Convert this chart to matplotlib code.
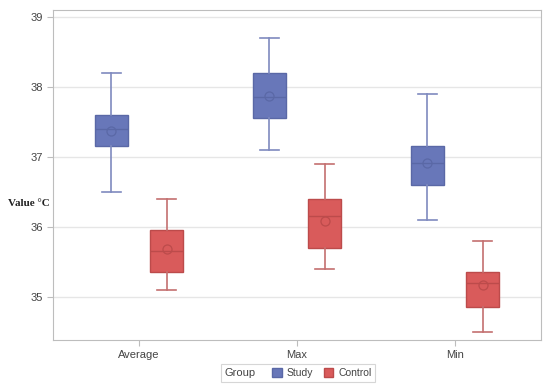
import matplotlib
matplotlib.use("Agg")
import matplotlib.pyplot as plt
from matplotlib.patches import Patch
from matplotlib.offsetbox import HPacker

plt.rcParams['font.family'] = ['Liberation Sans', 'DejaVu Sans']

categories = ["Average", "Max", "Min"]
groups = ["Study", "Control"]

# box stats (°C)
study_whislo = [36.50, 37.10, 36.11]
study_q1 = [37.16, 37.56, 36.60]
study_med = [37.40, 37.86, 36.91]
study_q3 = [37.60, 38.20, 37.16]
study_whishi = [38.20, 38.70, 37.90]
study_mean = [37.37, 37.87, 36.91]

control_whislo = [35.11, 35.40, 34.51]
control_q1 = [35.36, 35.70, 34.86]
control_med = [35.66, 36.16, 35.21]
control_q3 = [35.96, 36.41, 35.36]
control_whishi = [36.41, 36.90, 35.80]
control_mean = [35.69, 36.09, 35.17]

colors = {"Study": ("#6877B9", "#5A68A6", "#7F8ABF"),
          "Control": ("#D95B5B", "#BC4B4B", "#C47070")}

def make_stats(lo, q1, med, q3, hi, mean):
    out = []
    for i in range(len(lo)):
        out.append({"whislo": lo[i], "q1": q1[i], "med": med[i], "q3": q3[i],
                    "whishi": hi[i], "mean": mean[i], "fliers": []})
    return out

fig = plt.figure(figsize=(5.5, 3.89), dpi=100)
ax = fig.add_axes([0.0964, 0.126, 0.8872, 0.848])

offset = 0.175
data = {"Study": make_stats(study_whislo, study_q1, study_med, study_q3, study_whishi, study_mean),
        "Control": make_stats(control_whislo, control_q1, control_med, control_q3, control_whishi, control_mean)}

for j, g in enumerate(groups):
    fill, edge, whisk = colors[g]
    pos = [i + (offset if j else -offset) for i in range(len(categories))]
    ax.bxp(data[g], positions=pos, widths=0.21, patch_artist=True, showmeans=True,
           manage_ticks=False,
           boxprops=dict(facecolor=fill, edgecolor=edge, linewidth=1.0),
           medianprops=dict(color=edge, linewidth=1.0),
           whiskerprops=dict(color=whisk, linewidth=1.2),
           capprops=dict(color=whisk, linewidth=1.2),
           meanprops=dict(marker='o', markerfacecolor='none', markeredgecolor=edge,
                          markersize=6.5, markeredgewidth=0.9),
           capwidths=0.12)

ax.set_xlim(-0.544, 2.544)
ax.set_ylim(34.39, 39.1)
ax.set_xticks(range(len(categories)))
ax.set_xticklabels(categories)
ax.set_yticks([35, 36, 37, 38, 39])
ax.yaxis.grid(True, color="#E6E6E6", linewidth=1.0)
ax.set_axisbelow(True)
for s in ax.spines.values():
    s.set_color("#BDBDBD")
ax.tick_params(colors="#BDBDBD", labelcolor="#444444", labelsize=8, length=4)

ax.set_ylabel("Value °C", rotation=0, family=['Liberation Serif', 'DejaVu Serif'],
              fontweight='bold', fontsize=8, color="#222222", va="center", ha="center")
ax.yaxis.set_label_coords(-0.049, 0.415)

handles = [Patch(facecolor=colors[g][0], edgecolor=colors[g][1]) for g in groups]
leg = fig.legend(handles, groups, title="Group", ncol=2, loc="center",
                 bbox_to_anchor=(0.542, 0.041), fontsize=7.5, title_fontsize=8,
                 frameon=True, fancybox=False, edgecolor="#CCCCCC",
                 handlelength=0.9, handleheight=0.9, handletextpad=0.5,
                 columnspacing=1.0, borderpad=0.35)
leg.get_frame().set_linewidth(0.8)
leg.get_title().set_color("#444444")
for t in leg.get_texts():
    t.set_color("#444444")
# put title to the left of the entries
old = leg._legend_box
hp = HPacker(pad=old.pad, sep=12, align="center", children=old.get_children())
hp.set_figure(fig)
hp.set_offset(leg._findoffset)
leg._legend_box = hp

fig.savefig("out.png", dpi=100)
